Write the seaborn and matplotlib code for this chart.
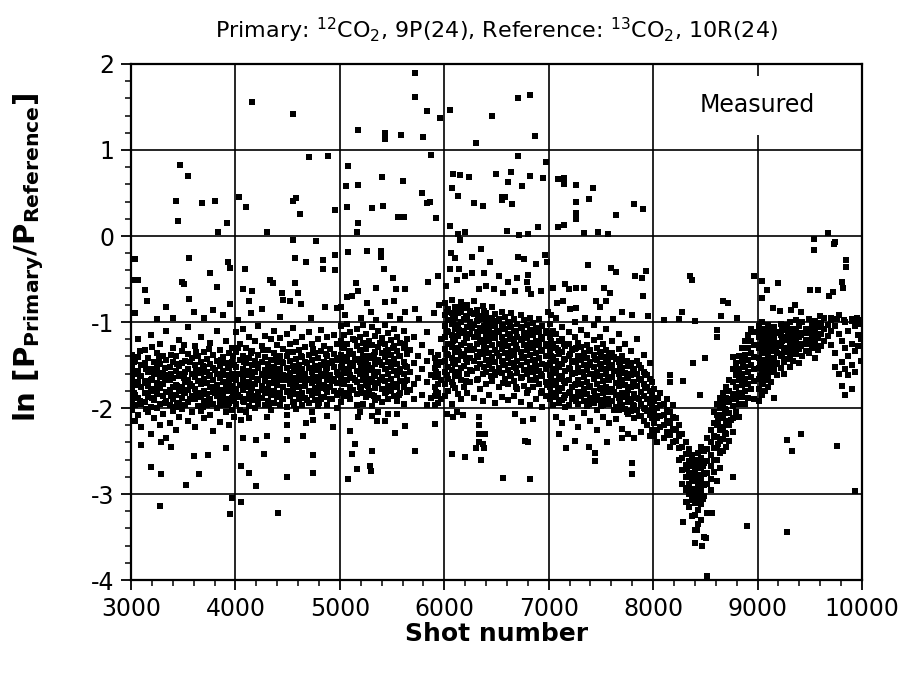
import matplotlib
matplotlib.use("Agg")
import matplotlib.pyplot as plt
import seaborn as sns
import pandas as pd
from matplotlib.ticker import MultipleLocator

# ---------------- data ----------------
# dense band, shot -> list of ln ratios
band_3000 = {
    3010: [-1.38, -1.52, -1.66, -1.79, -1.90, -2.02],
    3040: [-1.45, -1.61, -1.73, -1.85, -1.97, -2.15],
    3070: [-1.20, -1.41, -1.57, -1.70, -1.88, -2.08],
    3100: [-1.50, -1.63, -1.76, -1.95, -2.22],
    3130: [-1.33, -1.48, -1.69, -1.82, -1.93],
    3160: [-1.42, -1.58, -1.74, -1.87, -2.05],
    3190: [-1.15, -1.55, -1.67, -1.80, -1.99, -2.30],
    3220: [-1.47, -1.60, -1.78, -1.91, -2.12],
    3250: [-1.36, -1.53, -1.71, -1.84, -2.00],
    3280: [-1.25, -1.49, -1.64, -1.77, -1.95, -2.20],
    3310: [-1.40, -1.59, -1.72, -1.86, -2.07],
    3340: [-1.11, -1.44, -1.62, -1.81, -1.92, -2.35],
    3370: [-1.52, -1.68, -1.79, -1.97, -2.18],
    3400: [-1.30, -1.46, -1.65, -1.76, -1.89, -2.04],
    3430: [-1.39, -1.57, -1.73, -1.85, -1.99, -2.26],
    3460: [-1.21, -1.51, -1.63, -1.80, -1.94, -2.10],
    3490: [-1.34, -1.48, -1.60, -1.75, -1.88, -2.01],
    3520: [-1.45, -1.58, -1.70, -1.83, -1.96],
    3550: [-1.06, -1.37, -1.55, -1.67, -1.79, -1.93, -2.15],
    3580: [-1.42, -1.61, -1.74, -1.86, -2.05],
    3610: [-1.28, -1.50, -1.64, -1.78, -1.90, -2.22],
    3640: [-1.40, -1.56, -1.69, -1.82, -1.98],
    3670: [-1.17, -1.47, -1.59, -1.72, -1.87, -2.03],
    3700: [-1.35, -1.52, -1.66, -1.80, -1.92, -2.12],
    3730: [-1.43, -1.58, -1.71, -1.84, -1.97],
    3760: [-1.24, -1.49, -1.62, -1.76, -1.89, -2.08],
    3790: [-1.38, -1.54, -1.68, -1.81, -1.95, -2.27],
    3820: [-1.10, -1.45, -1.60, -1.73, -1.86, -2.00],
    3850: [-1.33, -1.51, -1.65, -1.79, -1.93, -2.16],
    3880: [-1.41, -1.57, -1.70, -1.83, -1.96],
    3910: [-1.22, -1.48, -1.62, -1.77, -1.90, -2.05],
    3940: [-1.36, -1.53, -1.67, -1.80, -1.94, -2.20],
    3970: [-1.30, -1.46, -1.60, -1.74, -1.88, -2.02],
    3990: [-1.50, -1.64, -1.78, -1.92, -2.10],
}
band_4000 = {
    4010: [-1.12, -1.35, -1.52, -1.68, -1.80, -1.95],
    4040: [-1.25, -1.44, -1.60, -1.73, -1.87, -2.02],
    4070: [-1.08, -1.39, -1.55, -1.66, -1.79, -1.92],
    4100: [-1.30, -1.48, -1.62, -1.76, -1.90, -2.05],
    4130: [-1.18, -1.42, -1.57, -1.70, -1.84, -1.98],
    4160: [-1.34, -1.50, -1.64, -1.77, -1.91],
    4190: [-1.22, -1.45, -1.58, -1.72, -1.86, -2.00],
    4220: [-1.05, -1.38, -1.53, -1.67, -1.81, -1.95],
    4250: [-1.28, -1.47, -1.61, -1.74, -1.88],
    4280: [-1.16, -1.41, -1.56, -1.69, -1.83, -1.97],
    4310: [-1.32, -1.49, -1.63, -1.78, -1.92],
    4340: [-1.20, -1.44, -1.59, -1.71, -1.85, -2.02],
    4370: [-1.10, -1.36, -1.52, -1.66, -1.80, -1.94],
    4400: [-1.27, -1.46, -1.60, -1.73, -1.87],
    4430: [-1.19, -1.40, -1.55, -1.68, -1.82, -1.96],
    4460: [-1.31, -1.48, -1.62, -1.75, -1.89],
    4490: [-1.14, -1.39, -1.54, -1.67, -1.81, -1.99],
    4520: [-1.26, -1.45, -1.59, -1.72, -1.86],
    4550: [-1.07, -1.35, -1.51, -1.65, -1.79, -1.93],
    4580: [-1.23, -1.43, -1.57, -1.70, -1.84, -2.01],
    4610: [-1.33, -1.50, -1.63, -1.76, -1.90],
    4640: [-1.17, -1.41, -1.55, -1.68, -1.82, -1.97],
    4670: [-1.29, -1.47, -1.61, -1.74, -1.88],
    4700: [-1.12, -1.38, -1.53, -1.66, -1.80, -1.94],
    4730: [-1.25, -1.44, -1.58, -1.71, -1.85, -2.05],
    4760: [-1.36, -1.51, -1.64, -1.77, -1.91],
    4790: [-1.20, -1.42, -1.56, -1.69, -1.83, -1.98],
    4820: [-1.09, -1.34, -1.50, -1.63, -1.77, -1.90],
    4850: [-1.28, -1.46, -1.60, -1.73, -1.87],
    4880: [-1.18, -1.40, -1.54, -1.67, -1.81, -1.96],
    4910: [-1.31, -1.48, -1.62, -1.75, -1.89],
    4940: [-1.15, -1.37, -1.52, -1.66, -1.80],
    4970: [-1.26, -1.44, -1.58, -1.71, -1.85, -2.00],
}
band_5000 = {
    5010: [-1.05, -1.22, -1.38, -1.52, -1.66, -1.80, -1.93],
    5040: [-1.15, -1.30, -1.45, -1.59, -1.72, -1.86],
    5070: [-1.02, -1.25, -1.41, -1.55, -1.68, -1.82],
    5100: [-1.12, -1.34, -1.48, -1.62, -1.76, -1.90],
    5130: [-1.20, -1.37, -1.51, -1.65, -1.79],
    5160: [-1.08, -1.28, -1.43, -1.57, -1.70, -1.84, -1.97],
    5190: [-1.17, -1.33, -1.47, -1.61, -1.75],
    5220: [-1.04, -1.24, -1.40, -1.54, -1.68, -1.82, -1.95],
    5250: [-1.14, -1.31, -1.46, -1.60, -1.73, -1.87],
    5280: [-1.22, -1.39, -1.53, -1.66, -1.80],
    5310: [-1.06, -1.27, -1.42, -1.56, -1.70, -1.85, -1.98],
    5340: [-1.16, -1.35, -1.49, -1.63, -1.77, -1.91],
    5370: [-1.10, -1.29, -1.44, -1.58, -1.71, -1.88],
    5400: [-1.19, -1.36, -1.50, -1.64, -1.78, -1.93],
    5430: [-1.03, -1.25, -1.41, -1.55, -1.69, -1.83],
    5460: [-1.13, -1.32, -1.47, -1.61, -1.74, -1.89],
    5490: [-1.21, -1.38, -1.52, -1.66, -1.80],
    5520: [-1.08, -1.28, -1.43, -1.57, -1.72, -1.86],
    5550: [-1.17, -1.34, -1.49, -1.62, -1.76, -1.92],
    5580: [-1.24, -1.40, -1.55, -1.69, -1.83],
    5610: [-1.11, -1.30, -1.46, -1.60, -1.75, -1.95],
    5640: [-1.20, -1.37, -1.52, -1.67, -1.81],
    5670: [-1.33, -1.58, -1.79],
    5710: [-1.18, -1.48, -1.72, -1.90],
    5750: [-1.40, -1.65],
    5790: [-1.27, -1.55, -1.85],
    5830: [-1.12, -1.45, -1.70, -1.96],
    5870: [-1.35, -1.62, -1.88],
    5910: [-1.42, -1.53, -1.64, -1.75, -1.86, -1.97],
    5940: [-1.38, -1.50, -1.61, -1.72, -1.83, -1.94],
    5970: [-1.20, -1.47, -1.68, -1.90],
}
band_6000 = {
    6010: [-0.78, -0.92, -1.05, -1.18, -1.31, -1.45, -1.58, -1.72, -1.86],
    6040: [-0.85, -0.98, -1.12, -1.25, -1.38, -1.52, -1.66, -1.80],
    6070: [-0.74, -0.89, -1.02, -1.15, -1.29, -1.42, -1.56, -1.70, -1.95],
    6100: [-0.82, -0.95, -1.08, -1.21, -1.35, -1.49, -1.63, -1.77],
    6130: [-0.90, -1.03, -1.16, -1.30, -1.44, -1.58, -1.84],
    6160: [-0.77, -0.88, -1.00, -1.13, -1.27, -1.40, -1.54, -1.68, -1.90],
    6190: [-0.84, -0.97, -1.10, -1.24, -1.37, -1.51, -1.75],
    6220: [-0.80, -0.93, -1.06, -1.19, -1.33, -1.47, -1.61, -1.82],
    6250: [-0.87, -1.00, -1.14, -1.28, -1.42, -1.56, -1.70],
    6280: [-0.76, -0.91, -1.04, -1.17, -1.31, -1.45, -1.88],
    6310: [-0.86, -0.99, -1.12, -1.26, -1.39, -1.53, -1.67],
    6340: [-0.93, -1.07, -1.21, -1.35, -1.49, -1.78],
    6370: [-0.81, -0.96, -1.10, -1.23, -1.37, -1.60, -1.92],
    6400: [-0.89, -1.02, -1.16, -1.30, -1.44, -1.58, -1.72],
    6430: [-0.95, -1.09, -1.22, -1.36, -1.50, -1.85],
    6460: [-0.83, -0.98, -1.13, -1.27, -1.41, -1.55, -1.69],
    6490: [-0.91, -1.05, -1.19, -1.33, -1.47, -1.62, -1.94],
    6520: [-0.97, -1.11, -1.25, -1.39, -1.53, -1.76],
    6550: [-0.88, -1.03, -1.17, -1.31, -1.45, -1.59, -1.87],
    6580: [-0.94, -1.08, -1.22, -1.36, -1.50, -1.66],
    6610: [-1.00, -1.14, -1.28, -1.42, -1.56, -1.72, -1.91],
    6640: [-0.90, -1.06, -1.20, -1.34, -1.48, -1.63],
    6670: [-0.96, -1.10, -1.24, -1.38, -1.52, -1.69, -1.86],
    6700: [-1.02, -1.17, -1.31, -1.45, -1.59, -1.78],
    6730: [-0.92, -1.07, -1.21, -1.35, -1.50, -1.65, -1.93],
    6760: [-0.98, -1.13, -1.27, -1.41, -1.56, -1.74],
    6790: [-1.04, -1.19, -1.33, -1.47, -1.61, -1.83],
    6820: [-0.95, -1.09, -1.24, -1.38, -1.53, -1.68, -1.97],
    6850: [-1.01, -1.15, -1.30, -1.44, -1.58, -1.75],
    6880: [-1.07, -1.22, -1.36, -1.51, -1.65, -1.89],
    6910: [-0.97, -1.12, -1.27, -1.42, -1.57, -1.72],
    6940: [-1.05, -1.20, -1.34, -1.49, -1.63, -1.80, -1.99],
    6970: [-1.10, -1.25, -1.40, -1.55, -1.70, -1.86],
}
band_7000 = {
    7010: [-1.02, -1.18, -1.33, -1.48, -1.62, -1.76, -1.90],
    7040: [-1.10, -1.26, -1.41, -1.55, -1.69, -1.83, -1.97],
    7070: [-0.95, -1.14, -1.30, -1.45, -1.59, -1.73, -1.87, -2.10],
    7100: [-1.22, -1.37, -1.52, -1.66, -1.80, -1.94],
    7130: [-1.06, -1.20, -1.35, -1.49, -1.63, -1.77, -1.91, -2.18],
    7160: [-1.28, -1.43, -1.57, -1.71, -1.85, -1.99],
    7190: [-1.12, -1.25, -1.40, -1.54, -1.68, -1.82, -1.96],
    7220: [-1.33, -1.47, -1.61, -1.75, -1.89, -2.12],
    7250: [-1.00, -1.17, -1.31, -1.45, -1.59, -1.73, -1.87],
    7280: [-1.24, -1.39, -1.53, -1.67, -1.81, -1.95, -2.22],
    7310: [-1.09, -1.29, -1.44, -1.58, -1.72, -1.86],
    7340: [-1.36, -1.50, -1.64, -1.78, -1.92, -2.06],
    7370: [-1.15, -1.27, -1.42, -1.56, -1.70, -1.84, -1.98],
    7400: [-1.32, -1.46, -1.60, -1.74, -1.88, -2.15],
    7430: [-1.04, -1.21, -1.38, -1.52, -1.66, -1.80, -1.94],
    7460: [-1.30, -1.44, -1.58, -1.72, -1.86, -2.02, -2.25],
    7490: [-1.18, -1.35, -1.49, -1.63, -1.77, -1.91],
    7520: [-1.26, -1.41, -1.55, -1.69, -1.83, -1.97, -2.10],
    7550: [-1.08, -1.33, -1.47, -1.61, -1.75, -1.89],
    7580: [-1.39, -1.53, -1.67, -1.81, -1.95, -2.18],
    7610: [-1.22, -1.36, -1.50, -1.64, -1.78, -1.92],
    7640: [-1.43, -1.57, -1.71, -1.85, -1.99, -2.13],
    7670: [-1.14, -1.31, -1.46, -1.60, -1.74, -1.88, -2.02],
    7700: [-1.40, -1.54, -1.68, -1.82, -1.96, -2.24],
    7730: [-1.25, -1.45, -1.59, -1.73, -1.87, -2.01],
    7760: [-1.51, -1.65, -1.79, -1.93, -2.07, -2.30],
    7790: [-1.34, -1.48, -1.62, -1.76, -1.90, -2.04],
    7820: [-1.56, -1.70, -1.84, -1.98, -2.12, -2.35],
    7850: [-1.20, -1.45, -1.60, -1.74, -1.88, -2.02],
    7880: [-1.53, -1.67, -1.81, -1.95, -2.09, -2.28],
    7910: [-1.38, -1.58, -1.72, -1.86, -2.00, -2.15],
    7940: [-1.62, -1.76, -1.90, -2.04, -2.20],
    7970: [-1.48, -1.66, -1.80, -1.94, -2.08, -2.32],
    7990: [-1.70, -1.84, -1.98, -2.12, -2.26],
}
band_8000 = {
    8010: [-1.78, -1.92, -2.05, -2.18, -2.32],
    8040: [-1.88, -2.00, -2.12, -2.25, -2.40],
    8070: [-1.83, -1.97, -2.09, -2.22],
    8100: [-1.95, -2.08, -2.20, -2.35],
    8130: [-1.90, -2.02, -2.15, -2.28],
    8160: [-2.05, -2.18, -2.31, -2.45],
    8190: [-1.97, -2.10, -2.24, -2.40],
    8220: [-2.12, -2.26, -2.38],
    8250: [-2.20, -2.33, -2.47, -2.60],
    8280: [-2.30, -2.45, -2.58, -2.72, -2.88],
    8310: [-2.40, -2.53, -2.66, -2.80, -2.95, -3.09],
    8340: [-2.48, -2.62, -2.75, -2.88, -3.00, -3.15],
    8370: [-2.55, -2.68, -2.82, -2.94, -3.07, -3.25],
    8400: [-2.60, -2.72, -2.85, -2.97, -3.10, -3.24, -3.42, -3.57],
    8430: [-2.52, -2.65, -2.78, -2.90, -3.03, -3.18, -3.35],
    8460: [-2.45, -2.58, -2.70, -2.84, -2.96, -3.12, -3.30],
    8490: [-2.50, -2.64, -2.77, -2.90, -3.02, -3.50],
    8520: [-2.35, -2.48, -2.62, -2.75, -2.88, -3.22, -3.95],
    8550: [-2.25, -2.40, -2.55, -2.68, -2.82, -2.95],
    8580: [-2.05, -2.18, -2.32, -2.46, -2.60, -2.74],
    8610: [-1.95, -2.08, -2.20, -2.34, -2.47, -2.60, -2.85],
    8640: [-1.88, -2.00, -2.12, -2.25, -2.38, -2.52, -2.70],
    8670: [-1.82, -1.95, -2.08, -2.22, -2.36, -2.50],
    8700: [-1.75, -1.88, -2.02, -2.15, -2.30, -2.45],
    8730: [-1.68, -1.80, -1.93, -2.06, -2.20, -2.38],
    8760: [-1.55, -1.70, -1.84, -1.98, -2.12, -2.28, -2.80],
    8790: [-1.48, -1.62, -1.76, -1.90, -2.05],
    8820: [-1.40, -1.55, -1.68, -1.82, -1.95, -2.10],
    8850: [-1.30, -1.45, -1.60, -1.73, -1.87],
    8880: [-1.22, -1.38, -1.52, -1.66, -1.80, -1.95],
    8910: [-1.15, -1.30, -1.44, -1.58, -1.72, -1.88],
    8940: [-1.08, -1.22, -1.36, -1.50, -1.64, -1.78],
    8970: [-1.12, -1.27, -1.41, -1.55, -1.69, -1.90],
}
band_9000 = {
    9010: [-1.05, -1.18, -1.30, -1.42, -1.54, -1.66, -1.78, -1.92],
    9040: [-1.00, -1.12, -1.24, -1.36, -1.48, -1.60, -1.72, -1.85],
    9070: [-1.08, -1.20, -1.32, -1.44, -1.56, -1.68, -1.80],
    9100: [-1.03, -1.15, -1.27, -1.39, -1.51, -1.63, -1.76],
    9130: [-1.10, -1.22, -1.34, -1.46, -1.58, -1.70],
    9160: [-1.06, -1.18, -1.30, -1.42, -1.55, -1.88],
    9190: [-1.12, -1.24, -1.36, -1.48, -1.62],
    9220: [-1.02, -1.15, -1.28, -1.40, -1.53],
    9250: [-1.09, -1.21, -1.33, -1.46, -1.60],
    9280: [-1.04, -1.17, -1.30, -1.43],
    9310: [-1.00, -1.13, -1.26, -1.38, -1.52],
    9340: [-1.08, -1.20, -1.33, -1.45],
    9370: [-0.98, -1.11, -1.24, -1.37],
    9400: [-1.05, -1.18, -1.31, -1.48],
    9430: [-1.00, -1.13, -1.26, -1.40],
    9460: [-1.08, -1.21, -1.34],
    9490: [-0.96, -1.10, -1.23, -1.36],
    9520: [-1.04, -1.17, -1.30],
    9550: [-0.99, -1.12, -1.25, -1.42],
    9580: [-1.06, -1.19, -1.32],
    9610: [-1.01, -1.14, -1.28],
    9640: [-0.95, -1.08, -1.22],
    9670: [-1.03, -1.16],
    9700: [-0.98, -1.10, -1.27],
    9740: [-1.05, -1.36, -1.52],
    9780: [-0.92, -1.14, -1.60],
    9810: [-1.22, -1.46, -1.74],
    9840: [-1.00, -1.30, -1.55, -1.85],
    9870: [-1.10, -1.40, -1.62],
    9900: [-0.96, -1.25, -1.50, -1.78],
    9930: [-1.05, -1.34, -1.58],
    9960: [-0.98, -1.15, -1.28],
    9990: [-1.02, -1.20, -1.45],
}

# extra shots between the band columns (irregular, to match the band's density)
fill_3000 = {
    3025: [-1.58, -1.83, -1.47], 3085: [-1.63, -1.92, -1.34], 3145: [-1.71, -1.55, -2.01],
    3205: [-1.66, -1.88, -1.29], 3265: [-1.59, -1.77, -1.43], 3325: [-1.68, -1.53, -1.94],
    3385: [-1.61, -1.86, -1.38], 3445: [-1.74, -1.49, -1.97], 3505: [-1.65, -1.81, -1.27],
    3565: [-1.72, -1.46, -1.89], 3625: [-1.57, -1.84, -1.35], 3685: [-1.69, -1.51, -1.99],
    3745: [-1.63, -1.90, -1.31], 3805: [-1.75, -1.56, -1.83], 3865: [-1.60, -1.87, -1.44],
    3925: [-1.70, -1.50, -1.96], 3980: [-1.66, -1.85, -1.40],
}
fill_4000 = {
    4025: [-1.61, -1.85, -1.30], 4085: [-1.70, -1.47, -1.93], 4145: [-1.58, -1.81, -1.36],
    4205: [-1.66, -1.49, -1.88], 4265: [-1.62, -1.79, -1.33], 4325: [-1.71, -1.52, -1.95],
    4385: [-1.59, -1.84, -1.41], 4445: [-1.68, -1.46, -1.90], 4505: [-1.63, -1.80, -1.35],
    4565: [-1.72, -1.55, -1.97], 4625: [-1.60, -1.86, -1.39], 4685: [-1.67, -1.48, -1.91],
    4745: [-1.64, -1.82, -1.31], 4805: [-1.70, -1.53, -1.94], 4865: [-1.57, -1.78, -1.37],
    4925: [-1.69, -1.45, -1.89], 4985: [-1.62, -1.83, -1.42],
}
fill_5000 = {
    5025: [-1.48, -1.71, -1.29], 5085: [-1.57, -1.36, -1.83], 5145: [-1.44, -1.68, -1.21],
    5205: [-1.53, -1.32, -1.79], 5265: [-1.50, -1.74, -1.27], 5325: [-1.59, -1.38, -1.86],
    5385: [-1.46, -1.67, -1.24], 5445: [-1.55, -1.34, -1.81], 5505: [-1.49, -1.73, -1.30],
    5565: [-1.58, -1.40, -1.85], 5625: [-1.51, -1.69, -1.26], 5925: [-1.58, -1.81, -1.46],
}
fill_6000 = {
    6025: [-1.11, -1.37, -0.88, -1.62], 6085: [-1.22, -0.97, -1.48, -1.73],
    6145: [-1.09, -1.35, -0.83, -1.60], 6205: [-1.18, -0.94, -1.43, -1.69],
    6265: [-1.07, -1.32, -0.90, -1.57], 6325: [-1.15, -0.98, -1.41, -1.66],
    6385: [-1.05, -1.29, -0.87, -1.52], 6445: [-1.19, -1.02, -1.45, -1.63],
    6505: [-1.12, -1.36, -0.99, -1.58], 6565: [-1.24, -1.07, -1.49, -1.71],
    6625: [-1.16, -1.39, -1.03, -1.61], 6685: [-1.27, -1.11, -1.54, -1.75],
    6745: [-1.20, -1.42, -1.06, -1.64], 6805: [-1.30, -1.14, -1.57, -1.79],
    6865: [-1.25, -1.46, -1.10, -1.68], 6925: [-1.33, -1.17, -1.60, -1.82],
    6985: [-1.28, -1.50, -1.13, -1.73],
}
fill_7000 = {
    7025: [-1.40, -1.66, -1.22, -1.83], 7085: [-1.52, -1.33, -1.78],
    7145: [-1.44, -1.69, -1.26, -1.88], 7205: [-1.55, -1.37, -1.81],
    7265: [-1.47, -1.72, -1.30, -1.92], 7325: [-1.58, -1.40, -1.84],
    7385: [-1.50, -1.75, -1.34, -1.95], 7445: [-1.61, -1.43, -1.87],
    7505: [-1.53, -1.78, -1.37, -1.98], 7565: [-1.64, -1.47, -1.90],
    7625: [-1.57, -1.81, -1.41, -2.02], 7685: [-1.68, -1.51, -1.93],
    7745: [-1.61, -1.85, -1.45, -2.05], 7805: [-1.72, -1.55, -1.97],
    7865: [-1.66, -1.89, -1.50, -2.09], 7925: [-1.77, -1.60, -2.01],
    7985: [-1.88, -2.04, -1.95],
}
fill_8000 = {
    8325: [-2.71, -2.93], 8385: [-2.76, -3.01], 8445: [-2.81, -2.99], 8475: [-2.68, -3.06],
    8625: [-2.15, -2.42], 8685: [-2.01, -2.29], 8745: [-1.89, -2.14], 8865: [-1.51, -1.68],
}
fill_9000 = {
    9025: [-1.27, -1.49, -1.12, -1.63], 9055: [-1.33, -1.55, -1.18, -1.70],
    9085: [-1.26, -1.47, -1.14, -1.62], 9115: [-1.31, -1.53, -1.19],
    9145: [-1.25, -1.44, -1.16], 9175: [-1.29, -1.49, -1.13], 9235: [-1.22, -1.37, -1.09],
    9295: [-1.20, -1.35, -1.11], 9355: [-1.17, -1.30], 9415: [-1.15, -1.28],
    9475: [-1.13, -1.26], 9535: [-1.09, -1.21],
}

# scattered shots outside the band: (shot, ln ratio)
scatter_3000 = [
    (3470, 0.83), (3550, 0.70), (3430, 0.41), (3680, 0.38), (3800, 0.41), (3450, 0.17),
    (3920, 0.15), (3830, 0.05), (3040, -0.27), (3560, -0.26), (3930, -0.30), (3950, -0.37),
    (3760, -0.43), (3020, -0.51), (3070, -0.51), (3490, -0.53), (3510, -0.56), (3820, -0.59),
    (3130, -0.63), (3560, -0.73), (3150, -0.76), (3340, -0.82), (3790, -0.86), (3950, -0.79),
    (3040, -0.90), (3400, -0.95), (3700, -0.95), (3880, -0.92), (3600, -0.88), (3250, -0.97),
    (3100, -2.43), (3290, -2.40), (3385, -2.45), (3195, -2.69), (3290, -2.77), (3605, -2.56),
    (3655, -2.77), (3910, -2.47), (3735, -2.55), (3530, -2.90), (3280, -3.14), (3970, -3.05),
    (3950, -3.23),
]
scatter_4000 = [
    (4160, 1.56), (4550, 1.42), (4700, 0.92), (4890, 0.93), (4030, 0.45), (4100, 0.34),
    (4550, 0.41), (4580, 0.44), (4620, 0.26), (4950, 0.30), (4300, 0.05), (4550, -0.05),
    (4770, -0.06), (4570, -0.26), (4680, -0.30), (4840, -0.28), (4950, -0.22), (4950, -0.40),
    (4840, -0.38), (4090, -0.38), (4330, -0.51), (4360, -0.55), (4570, -0.55), (4070, -0.62),
    (4160, -0.64), (4450, -0.66), (4600, -0.66), (4460, -0.74), (4520, -0.76), (4630, -0.79),
    (4130, -0.75), (4150, -0.90), (4430, -0.94), (4970, -0.84), (4860, -0.83), (4250, -0.85),
    (4720, -0.95), (4020, -0.98),
    (4050, -2.14), (4130, -2.12), (4300, -2.11), (4490, -2.08), (4490, -2.20), (4680, -2.18),
    (4745, -2.14), (4880, -2.09), (4930, -2.22), (4070, -2.35), (4200, -2.37), (4300, -2.33),
    (4490, -2.37), (4650, -2.33), (4050, -2.67), (4130, -2.75), (4270, -2.53), (4490, -2.80),
    (4745, -2.55), (4745, -2.75), (4200, -2.91), (4050, -3.09), (4410, -3.22),
]
scatter_5000 = [
    (5170, 1.23), (5430, 1.20), (5430, 1.13), (5720, 1.90), (5720, 1.62), (5830, 1.45),
    (5960, 1.37), (5590, 1.17), (5800, 1.15), (5870, 0.94), (5080, 0.81), (5400, 0.69),
    (5060, 0.58), (5170, 0.59), (5600, 0.64), (5790, 0.50), (5830, 0.38), (5860, 0.39),
    (5070, 0.34), (5310, 0.33), (5410, 0.35), (5560, 0.22), (5170, 0.15), (5160, 0.05),
    (5920, 0.21), (5610, 0.22),
    (5080, -0.19), (5260, -0.17), (5390, -0.17), (5390, -0.24), (5420, -0.38), (5510, -0.49),
    (5150, -0.55), (5350, -0.60), (5540, -0.62), (5070, -0.71), (5120, -0.70), (5170, -0.64),
    (5260, -0.78), (5430, -0.77), (5520, -0.76), (5620, -0.62), (5840, -0.54), (5940, -0.47),
    (5720, -0.85), (5620, -0.88), (5900, -0.90), (5050, -0.92), (5200, -0.95), (5300, -0.88),
    (5480, -0.93), (5580, -0.97), (5760, -0.96), (5010, -0.82), (5950, -0.80), (5350, -0.98),
    (5190, -2.05), (5175, -2.10), (5305, -2.09), (5368, -2.05), (5352, -2.15), (5430, -2.15),
    (5463, -2.07), (5543, -2.07), (5623, -2.21), (5527, -2.29), (5097, -2.27), (5144, -2.42),
    (5304, -2.50), (5113, -2.53), (5160, -2.71), (5288, -2.67), (5300, -2.73), (5080, -2.83),
    (5719, -2.50), (5910, -2.19),
]
scatter_6000 = [
    (6050, 1.46), (6460, 1.40), (6820, 1.64), (6710, 1.60), (6870, 1.16), (6300, 1.08),
    (6150, 0.71), (6080, 0.72), (6240, 0.69), (6070, 0.56), (6130, 0.46), (6280, 0.38),
    (6370, 0.35), (6550, 0.45), (6580, 0.45), (6550, 0.42), (6650, 0.37), (6610, 0.63),
    (6740, 0.58), (6640, 0.74), (6710, 0.93), (6820, 0.70), (6970, 0.86), (6950, 0.68),
    (6050, 0.12), (6900, 0.11), (6500, 0.72), (6600, 0.06), (6130, 0.02), (6720, 0.01),
    (6800, 0.02), (6200, 0.05),
    (6060, -0.20), (6100, -0.25), (6270, -0.24), (6150, -0.05), (6050, -0.38), (6140, -0.38),
    (6200, -0.46), (6120, -0.51), (6270, -0.43), (6380, -0.43), (6520, -0.47), (6400, -0.58),
    (6480, -0.62), (6610, -0.53), (6710, -0.24), (6760, -0.27), (6880, -0.33), (6800, -0.45),
    (6700, -0.49), (6790, -0.53), (6800, -0.62), (6680, -0.64), (6830, -0.68), (6930, -0.64),
    (6980, -0.30), (6330, -0.62), (6560, -0.66), (6020, -0.58), (6440, -0.30), (6350, -0.15),
    (6030, -2.07), (6080, -2.10), (6180, -2.08), (6330, -2.10), (6330, -2.20), (6330, -2.30),
    (6330, -2.40), (6390, -2.30), (6370, -2.42), (6300, -2.47), (6380, -2.47), (6070, -2.54),
    (6200, -2.57), (6350, -2.60), (6560, -2.81), (6820, -2.83), (6770, -2.38), (6800, -2.39),
    (6680, -2.07), (6750, -2.15), (6850, -2.13), (6120, -2.05),
]
scatter_7000 = [
    (7090, 0.66), (7150, 0.68), (7150, 0.60), (7260, 0.59), (7420, 0.56), (7390, 0.43),
    (7260, 0.40), (7260, 0.27), (7260, 0.20), (7090, 0.11), (7150, 0.13), (7640, 0.24),
    (7820, 0.37), (7900, 0.31), (7470, 0.05), (7570, 0.02), (7340, 0.03),
    (7040, -0.60), (7160, -0.56), (7190, -0.62), (7260, -0.60), (7340, -0.60), (7530, -0.61),
    (7590, -0.66), (7380, -0.34), (7600, -0.37), (7640, -0.42), (7930, -0.41), (7890, -0.49),
    (7830, -0.46), (7450, -0.75), (7490, -0.83), (7550, -0.76), (7080, -0.78), (7140, -0.76),
    (7200, -0.85), (7260, -0.84), (7900, -0.70), (7700, -0.88), (7800, -0.92), (7350, -0.95),
    (7620, -0.96), (7020, -0.92), (7950, -0.93), (7470, -0.97), (6960, -0.22), (6990, -0.88),
    (7170, -2.47), (7390, -2.45), (7440, -2.52), (7440, -2.62), (7800, -2.64), (7800, -2.77),
    (7100, -2.30), (7560, -2.40), (7700, -2.35), (7250, -2.38),
]
scatter_8000 = [
    (8370, -0.51), (8670, -0.76), (8720, -0.78), (8280, -0.88), (8350, -0.47), (8970, -0.46),
    (8100, -0.98), (8250, -0.97), (8400, -0.99), (8800, -0.95), (8650, -0.93),
    (8610, -1.09), (8610, -1.18), (8760, -1.41), (8380, -1.48), (8500, -1.42), (8160, -1.62),
    (8160, -1.70), (8290, -1.69), (8450, -1.85), (8050, -1.88),
    (8320, -3.09), (8290, -3.33), (8420, -3.42), (8510, -3.51), (8560, -3.22), (8900, -3.37),
    (8470, -3.60), (8450, -3.05),
]
scatter_9000 = [
    (9040, -0.52), (9200, -0.55), (9090, -0.63), (9040, -0.72), (9150, -0.84), (9210, -0.87),
    (9320, -0.86), (9360, -0.80), (9420, -0.88), (9500, -0.63), (9580, -0.63), (9805, -0.54),
    (9850, -0.28), (9740, -0.07), (9540, -0.03), (9670, 0.03), (9730, -0.09), (9540, -0.16),
    (9850, -0.36), (9820, -0.60), (9600, -0.93), (9700, -0.95), (9760, -0.96), (9830, -0.98),
    (9900, -0.99), (9950, -0.95), (9680, -0.70), (9720, -0.65),
    (9420, -2.30), (9280, -2.37), (9330, -2.50), (9760, -2.44), (9930, -2.97), (9280, -3.44),
]

x_ticks = [3000, 4000, 5000, 6000, 7000, 8000, 9000, 10000]
y_ticks = [-4, -3, -2, -1, 0, 1, 2]
title_text = r"Primary: $^{12}$CO$_2$, 9P(24), Reference: $^{13}$CO$_2$, 10R(24)"
x_label = "Shot number"
y_label = r"ln [P$_{\mathbf{Primary}}$/P$_{\mathbf{Reference}}$]"
note_text = "Measured"

# ---------------- build the table ----------------
rows = []
for band in (band_3000, band_4000, band_5000, band_6000, band_7000, band_8000, band_9000,
             fill_3000, fill_4000, fill_5000, fill_6000, fill_7000, fill_8000, fill_9000):
    for shot, ratios in band.items():
        for r in ratios:
            rows.append((shot, r))
for sc in (scatter_3000, scatter_4000, scatter_5000, scatter_6000, scatter_7000,
           scatter_8000, scatter_9000):
    rows.extend(sc)
df = pd.DataFrame(rows, columns=["shot", "ratio"])

# ---------------- draw ----------------
sns.set_style("white")
plt.rcParams["font.family"] = ["DejaVu Sans"]
plt.rcParams["axes.unicode_minus"] = False
plt.rcParams["mathtext.fontset"] = "dejavusans"
plt.rcParams["text.color"] = "black"
plt.rcParams["axes.labelcolor"] = "black"

fig = plt.figure(figsize=(9.09, 6.75), dpi=100)
ax = fig.add_axes([0.1441, 0.1407, 0.8042, 0.7645])

sns.scatterplot(data=df, x="shot", y="ratio", marker="s", s=20, color="black",
                linewidth=0, ax=ax, legend=False, zorder=3)

ax.set_xlim(3000, 10000)
ax.set_ylim(-4, 2)
ax.set_xticks(x_ticks)
ax.set_yticks(y_ticks)
ax.xaxis.set_minor_locator(MultipleLocator(200))
ax.yaxis.set_minor_locator(MultipleLocator(0.2))
ax.grid(True, which="major", color="black", linewidth=1.2, zorder=1)
ax.set_axisbelow(True)
for sp in ax.spines.values():
    sp.set_color("black")
    sp.set_linewidth(1.6)
ax.tick_params(which="major", direction="out", length=7, width=1.3, colors="black",
               labelsize=17, pad=5, bottom=True, left=True)
ax.tick_params(which="minor", direction="out", length=4, width=1.1, colors="black",
               bottom=True, left=True)
ax.set_xlabel("")
ax.set_ylabel("")

fig.text(497 / 909, 1 - 634 / 675, x_label, fontsize=18, fontweight="bold",
         ha="center", va="center", color="black")
fig.text(29 / 909, 1 - 257 / 675, y_label, fontsize=21, fontweight="bold",
         rotation=90, ha="center", va="center", color="black")
fig.text(497 / 909, 1 - 30 / 675, title_text, fontsize=16, ha="center", va="center",
         color="black")

ax.text(9000, 1.52, note_text, fontsize=17, ha="center", va="center", zorder=4,
        color="black", bbox=dict(boxstyle="square,pad=0.75", fc="white", ec="none"))

fig.savefig("out.png", dpi=100)
